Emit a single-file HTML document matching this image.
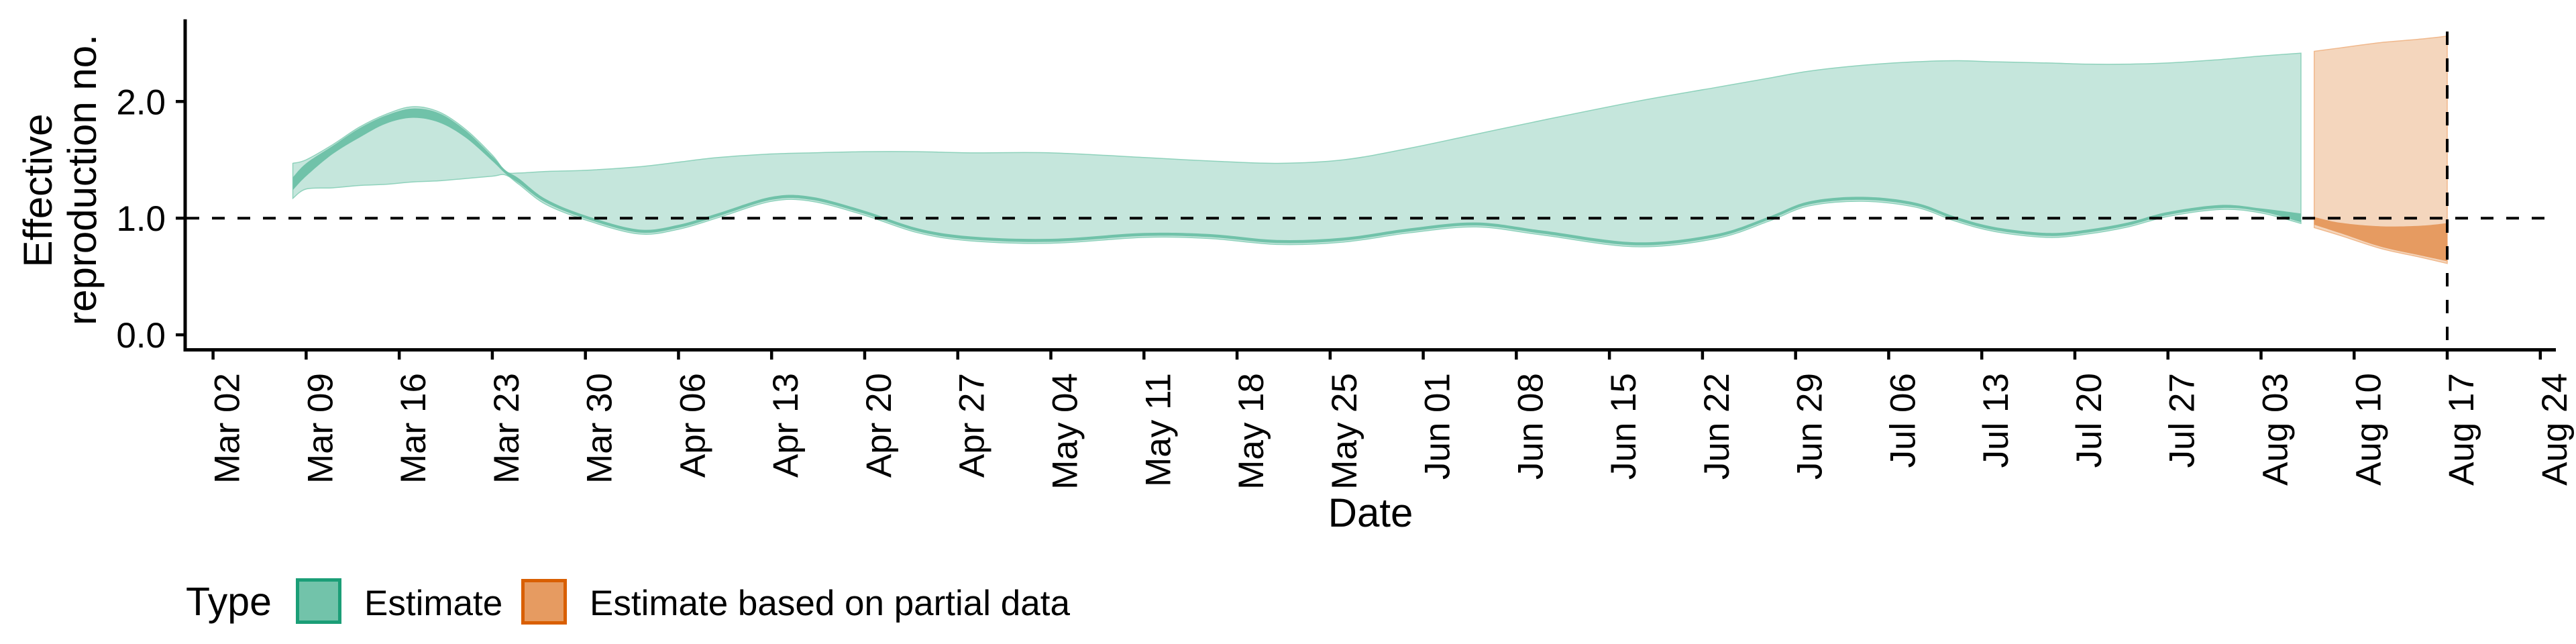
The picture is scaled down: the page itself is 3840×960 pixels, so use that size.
<!DOCTYPE html>
<html><head><meta charset="utf-8"><style>
html,body{margin:0;padding:0;background:#fff;}
svg{display:block;font-family:"Liberation Sans",Arial,sans-serif;}
</style></head><body>
<svg id="chart" width="3840" height="960" viewBox="0 0 3840 960" xmlns="http://www.w3.org/2000/svg">
<g id="bands"></g>
<g id="axes"></g>
<text transform="translate(77,284) rotate(-90)" text-anchor="middle" font-size="60">Effective</text>
<text transform="translate(143,268) rotate(-90)" text-anchor="middle" font-size="60">reproduction no.</text>
<text x="2043" y="785" text-anchor="middle" font-size="60">Date</text>
<g>
<text x="277" y="917" font-size="59">Type</text>
<rect x="443.5" y="864.5" width="63" height="63" fill="#72c3aa" stroke="#1b9e77" stroke-width="5"/>
<text x="543" y="917" font-size="53">Estimate</text>
<rect x="779.5" y="865.5" width="63" height="63" fill="#e69b61" stroke="#d95f02" stroke-width="5"/>
<text x="879" y="917" font-size="53">Estimate based on partial data</text>
</g>
</svg>
<script>
// ---- data ----
const tickLabels = ["Mar 02","Mar 09","Mar 16","Mar 23","Mar 30","Apr 06","Apr 13","Apr 20","Apr 27","May 04","May 11","May 18","May 25","Jun 01","Jun 08","Jun 15","Jun 22","Jun 29","Jul 06","Jul 13","Jul 20","Jul 27","Aug 03","Aug 10","Aug 17","Aug 24"];
const yTicks = [0, 1, 2];
const yTickLabels = ["0.0","1.0","2.0"];
// days since Mar 02
const estDays = [6,7,9,11,13,15,17,19,21,22,23,25,28,32,35,38,42,45,49,53,57,63,70,75,80,85,90,95,100,107,113,117,120,124,128,131,134,138,141,144,147,151,154,157];
const estLo90 = [1.17,1.25,1.26,1.28,1.29,1.31,1.32,1.34,1.36,1.37,1.29,1.12,0.985,0.865,0.905,1.005,1.145,1.145,1.025,0.875,0.805,0.785,0.835,0.825,0.775,0.795,0.875,0.925,0.855,0.755,0.825,0.975,1.105,1.145,1.095,0.975,0.885,0.835,0.865,0.925,1.015,1.075,1.045,0.955];
const estLo20 = [1.24,1.36,1.55,1.69,1.81,1.86,1.82,1.69,1.49,1.38,1.30,1.135,0.997,0.877,0.917,1.017,1.157,1.157,1.037,0.887,0.817,0.797,0.847,0.837,0.787,0.807,0.887,0.937,0.867,0.767,0.837,0.987,1.117,1.157,1.107,0.987,0.897,0.847,0.877,0.937,1.027,1.087,1.057,0.965];
const estHi20 = [1.35,1.47,1.62,1.77,1.88,1.94,1.90,1.75,1.53,1.41,1.34,1.165,1.023,0.903,0.943,1.043,1.183,1.183,1.063,0.913,0.843,0.823,0.873,0.863,0.813,0.833,0.913,0.963,0.893,0.793,0.863,1.013,1.143,1.183,1.133,1.013,0.923,0.873,0.903,0.963,1.053,1.113,1.083,1.04];
const estHi90 = [1.47,1.50,1.63,1.78,1.89,1.955,1.91,1.76,1.54,1.40,1.387,1.40,1.41,1.44,1.48,1.52,1.55,1.56,1.57,1.57,1.56,1.56,1.52,1.49,1.47,1.50,1.60,1.72,1.84,2.00,2.12,2.20,2.26,2.31,2.34,2.35,2.34,2.33,2.32,2.32,2.33,2.36,2.39,2.414];
const partDays = [158,160,163,166,168];
const partLo90 = [0.919,0.85,0.74,0.665,0.612];
const partLo20 = [0.944,0.87,0.755,0.68,0.631];
const partHi20 = [1.01,0.96,0.93,0.935,0.957];
const partHi90 = [2.43,2.46,2.505,2.535,2.56];
const refR = 1.0;
const refDay = 168;

// ---- scales ----
const X0 = 317.6, PXD = 19.824;
const Y0 = 499.1, PXU = 173.9;
const xs = d => X0 + d * PXD;
const ys = v => Y0 - v * PXU;
const NS = "http://www.w3.org/2000/svg";
const bands = document.getElementById('bands');
const axes = document.getElementById('axes');

function smooth(pts){
  let d = "";
  for (let i=0;i<pts.length-1;i++){
    const p0 = pts[Math.max(0,i-1)], p1 = pts[i], p2 = pts[i+1], p3 = pts[Math.min(pts.length-1,i+2)];
    const c1x = p1[0]+(p2[0]-p0[0])/6, c1y = p1[1]+(p2[1]-p0[1])/6;
    const c2x = p2[0]-(p3[0]-p1[0])/6, c2y = p2[1]-(p3[1]-p1[1])/6;
    d += ` C${c1x.toFixed(2)},${c1y.toFixed(2)} ${c2x.toFixed(2)},${c2y.toFixed(2)} ${p2[0].toFixed(2)},${p2[1].toFixed(2)}`;
  }
  return d;
}
function band(days, lo, hi, fill, stroke, sw, name){
  const up = days.map((d,i)=>[xs(d), ys(hi[i])]);
  const dn = days.map((d,i)=>[xs(d), ys(lo[i])]).reverse();
  const dStr = `M${up[0][0]},${up[0][1]}` + smooth(up) + ` L${dn[0][0]},${dn[0][1]}` + smooth(dn) + " Z";
  const p = document.createElementNS(NS,'path');
  p.setAttribute('d', dStr);
  p.setAttribute('fill', fill);
  p.setAttribute('stroke', stroke);
  p.setAttribute('stroke-width', sw);
  
  
  bands.appendChild(p);
}
band(estDays, estLo90, estHi90, '#c5e6dc', '#8fd2bc', '1.5', 'estimate-90-band');
band(estDays, estLo20, estHi20, '#70c2a9', 'none', '0', 'estimate-20-band');
band(partDays, partLo90, partHi90, '#f4d6bd', '#f0b88c', '1.5', 'partial-90-band');
band(partDays, partLo20, partHi20, '#e69b61', 'none', '0', 'partial-20-band');

function line(x1,y1,x2,y2,w,dash,name){
  const l = document.createElementNS(NS,'line');
  l.setAttribute('x1',x1); l.setAttribute('y1',y1); l.setAttribute('x2',x2); l.setAttribute('y2',y2);
  l.setAttribute('stroke','#000'); l.setAttribute('stroke-width',w);
  if (dash) l.setAttribute('stroke-dasharray',dash);
  
  
  axes.appendChild(l);
  return l;
}
function text(x,y,str,size,anchor,transform,name){
  const t = document.createElementNS(NS,'text');
  t.setAttribute('x',x); t.setAttribute('y',y);
  t.setAttribute('font-size',size);
  t.setAttribute('text-anchor',anchor);
  if (transform) t.setAttribute('transform',transform);
  t.textContent = str;
  
  
  axes.appendChild(t);
}
// reference lines
line(278, ys(refR), 3808, ys(refR), 4, '19 19', 'reference-line-r1');
line(xs(refDay), 47, xs(refDay), 521, 4, '20 20', 'reference-line-today');
// axes
line(276, 28.8, 276, 524, 5, null, 'y-axis-line');
line(273.5, 521.5, 3810, 521.5, 5, null, 'x-axis-line');
yTicks.forEach((v,i)=>{
  line(262, ys(v), 276, ys(v), 4.5, null, 'y-tick');
  text(247, ys(v)+19, yTickLabels[i], 53, 'end', null, 'y-tick-label');
});
tickLabels.forEach((lab,i)=>{
  const x = xs(i*7);
  line(x, 521, x, 536, 4.5, null, 'x-tick');
  text(0, 0, lab, 53, 'end', `translate(${x+39},556) rotate(-90)`, 'x-tick-label');
});
</script>
</body></html>
